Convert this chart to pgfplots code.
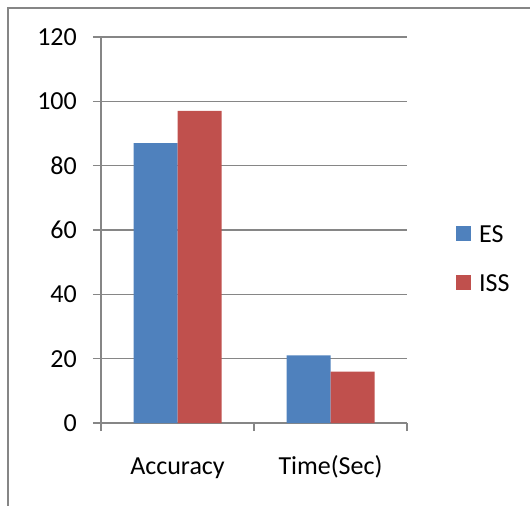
\documentclass[border=0pt]{standalone}
\usepackage{fontspec}
\setmainfont{Carlito}
\usepackage{pgfplots}
\pgfplotsset{compat=1.18}
\definecolor{esblue}{HTML}{4F81BD}
\definecolor{issred}{HTML}{C0504D}
\definecolor{gridgray}{HTML}{868686}
\begin{document}
\begin{tikzpicture}[font=\fontsize{26bp}{31bp}\selectfont]
\useasboundingbox (-101bp,-83bp) rectangle (429bp,423bp);
\draw[gridgray, line width=1.5bp] (-93bp,-100bp) -- (-93bp,415bp) -- (440bp,415bp);
\begin{axis}[
  at={(0,0)}, anchor=south west,
  width=306bp, height=386bp, scale only axis,
  xmin=-0.5, xmax=1.5, ymin=0, ymax=120,
  ytick={0,20,...,120},
  ymajorgrids, grid style={gridgray, line width=1.5bp},
  axis x line*=bottom, axis y line*=left,
  axis line style={-, gridgray, line width=1.5bp},
  xtick={0,1}, xticklabels={Accuracy,Time(Sec)},
  major x tick style={draw=none},
  minor xtick={-0.5,0.5,1.5},
  tick style={gridgray, line width=1.5bp},
  major tick length=8bp, minor tick length=8bp, tick align=outside,
  /pgf/number format/assume math mode=true,
  yticklabel style={inner sep=0pt, xshift=-16bp},
  xticklabel style={inner sep=0pt, text height=17bp, yshift=-26bp},
  ybar=0pt, bar width=44bp,
  legend entries={ES,ISS},
  legend style={draw=none, fill=none, at={(1.160,0.426)}, anchor=west,
    inner sep=0pt, row sep=32bp,
    nodes={inner sep=0pt, text height=16bp, text depth=0bp},
    /tikz/every odd column/.append style={column sep=8bp}},
  legend image code/.code={\fill[#1] (0bp,-6bp) rectangle (15bp,9bp);},
  legend cell align=left,
]
\addplot[fill=esblue, draw=none] coordinates {(0,87) (1,21)};
\addplot[fill=issred, draw=none] coordinates {(0,97) (1,16)};
\end{axis}
\end{tikzpicture}
\end{document}
